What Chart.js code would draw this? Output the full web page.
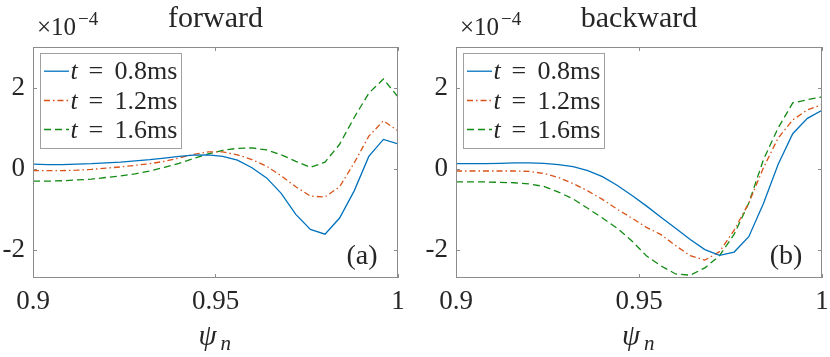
<!DOCTYPE html>
<html>
<head>
<meta charset="utf-8">
<script src="https://cdn.jsdelivr.net/npm/chart.js@4/dist/chart.umd.min.js"></script>
<style>
  html, body { margin: 0; padding: 0; background: #ffffff; }
  #wrap { position: relative; width: 830px; height: 357px; overflow: hidden; }
  canvas { position: absolute; top: 0; }
  .pre { font-family: "Liberation Serif"; position: absolute; left: -1000px; }
</style>
</head>
<body>
<span class="pre">0.9 forward</span><span class="pre"><i>t</i></span>
<div id="wrap">
  <canvas id="cF" width="415" height="357" style="left:0px"></canvas>
  <canvas id="cB" width="415" height="357" style="left:415px"></canvas>
</div>
<script>
// ---------- data (values in units of 1e-4) ----------
const psi = [0.900, 0.904, 0.908, 0.912, 0.916, 0.920, 0.924, 0.928, 0.932, 0.936,
             0.940, 0.944, 0.948, 0.952, 0.956, 0.960, 0.964, 0.968, 0.972, 0.976,
             0.980, 0.984, 0.988, 0.992, 0.996, 1.000];

const seriesLabels = ["0.8ms", "1.2ms", "1.6ms"];

// forward
const fwd08 = [0.11, 0.10, 0.10, 0.11, 0.12, 0.14, 0.16, 0.19, 0.22, 0.26,
               0.30, 0.33, 0.34, 0.30, 0.21, 0.02, -0.23, -0.61, -1.13, -1.50,
               -1.62, -1.22, -0.55, 0.30, 0.72, 0.61];
const fwd12 = [-0.05, -0.05, -0.05, -0.04, -0.02, 0.01, 0.04, 0.08, 0.12, 0.18,
               0.26, 0.35, 0.41, 0.41, 0.34, 0.22, 0.06, -0.18, -0.45, -0.68,
               -0.70, -0.45, 0.14, 0.80, 1.18, 0.93];
const fwd16 = [-0.31, -0.31, -0.30, -0.28, -0.26, -0.22, -0.18, -0.13, -0.06, 0.03,
               0.13, 0.25, 0.36, 0.45, 0.50, 0.51, 0.46, 0.34, 0.18, 0.03,
               0.16, 0.60, 1.26, 1.86, 2.21, 1.77];

// backward
const bwd08 = [0.12, 0.12, 0.12, 0.13, 0.14, 0.14, 0.13, 0.10, 0.05, -0.05,
               -0.20, -0.41, -0.66, -0.92, -1.20, -1.47, -1.75, -2.00, -2.14, -2.06,
               -1.68, -0.86, 0.10, 0.86, 1.24, 1.44];
const bwd12 = [-0.06, -0.06, -0.06, -0.06, -0.06, -0.07, -0.12, -0.22, -0.37, -0.55,
               -0.76, -1.00, -1.22, -1.45, -1.63, -1.90, -2.15, -2.26, -2.05, -1.52,
               -0.85, 0.02, 0.75, 1.20, 1.45, 1.58];
const bwd16 = [-0.33, -0.33, -0.33, -0.34, -0.35, -0.38, -0.44, -0.58, -0.75, -0.98,
               -1.22, -1.47, -1.78, -2.15, -2.40, -2.60, -2.63, -2.45, -2.15, -1.62,
               -0.85, 0.22, 1.00, 1.62, 1.70, 1.77];

const xTicks = [0.9, 0.95, 1];
const yTicks = [-2, 0, 2];

// ---------- styling ----------
const FONT = '"Liberation Serif", "DejaVu Serif", serif';
const TXT = '#262626';
const AXC = '#8c8c8c';
const styles = [
  { color: '#0072BD', dash: [] },
  { color: '#D95319', dash: [6, 3, 1.5, 3] },
  { color: '#138a13', dash: [7, 4] }
];

function makeDatasets(arrs) {
  return arrs.map((arr, k) => ({
    label: seriesLabels[k],
    data: psi.map((x, i) => ({ x: x, y: arr[i] })),
    borderColor: styles[k].color,
    borderDash: styles[k].dash,
    borderWidth: 1.3,
    pointRadius: 0,
    tension: 0,
    fill: false
  }));
}

const decor = {
  id: 'decor',
  afterDraw(chart, args, opts) {
    const ctx = chart.ctx;
    const a = chart.chartArea;
    const xs = chart.scales.x, ys = chart.scales.y;
    ctx.save();
    // box
    ctx.strokeStyle = AXC;
    ctx.lineWidth = 1;
    ctx.strokeRect(Math.round(a.left) + 0.5, Math.round(a.top) + 0.5,
                   Math.round(a.right - a.left) - 1, Math.round(a.bottom - a.top) - 1);
    // inward ticks
    const tl = 4;
    ctx.beginPath();
    xTicks.forEach(v => {
      const px = Math.round(xs.getPixelForValue(v)) + 0.5;
      ctx.moveTo(px, a.bottom); ctx.lineTo(px, a.bottom - tl);
      ctx.moveTo(px, a.top); ctx.lineTo(px, a.top + tl);
    });
    yTicks.forEach(v => {
      const py = Math.round(ys.getPixelForValue(v)) + 0.5;
      ctx.moveTo(a.left, py); ctx.lineTo(a.left + tl, py);
      ctx.moveTo(a.right, py); ctx.lineTo(a.right - tl, py);
    });
    ctx.stroke();

    ctx.fillStyle = TXT;
    // title
    ctx.textAlign = 'center';
    ctx.textBaseline = 'alphabetic';
    ctx.font = '30px ' + FONT;
    ctx.fillText(opts.title, (a.left + a.right) / 2, 27);
    // multiplier x10^-4
    ctx.textAlign = 'left';
    ctx.font = '25px ' + FONT;
    const mx = a.left + 4;
    ctx.fillText('\u00D710', mx, 35);
    const mw = ctx.measureText('\u00D710').width;
    ctx.font = '19px ' + FONT;
    ctx.fillText('\u22124', mx + mw + 2, 25);
    // panel tag
    ctx.textAlign = 'center';
    ctx.textBaseline = 'middle';
    ctx.font = '28px ' + FONT;
    ctx.fillText(opts.tag, a.right - 36, 257);
    // x axis label psi_n
    ctx.textBaseline = 'alphabetic';
    ctx.textAlign = 'left';
    const cx = (a.left + a.right) / 2;
    ctx.font = 'italic 29px ' + FONT;
    ctx.fillText('\u03C8', cx - 17, 345);
    ctx.font = 'italic 21px ' + FONT;
    ctx.fillText('n', cx + 5, 350);

    // legend
    const bx = Math.round(a.left + 6.5) + 0.5, by = Math.round(a.top + 5.5) + 0.5;
    const bw = 141, bh = 95;
    ctx.fillStyle = '#ffffff';
    ctx.fillRect(bx, by, bw, bh);
    ctx.strokeStyle = '#a0a0a0';
    ctx.lineWidth = 1;
    ctx.setLineDash([]);
    ctx.strokeRect(bx, by, bw, bh);
    const lineY = [17.7, 47, 76];
    const baseY = [25.5, 55, 84.5];
    chart.data.datasets.forEach((ds, k) => {
      ctx.strokeStyle = ds.borderColor;
      ctx.lineWidth = 1.3;
      ctx.setLineDash(ds.borderDash || []);
      ctx.beginPath();
      ctx.moveTo(bx + 3.5, by + lineY[k]);
      ctx.lineTo(bx + 28.5, by + lineY[k]);
      ctx.stroke();
      ctx.setLineDash([]);
      ctx.fillStyle = TXT;
      ctx.textAlign = 'left';
      ctx.font = 'italic 26px ' + FONT;
      ctx.fillText('t', bx + 30, by + baseY[k]);
      ctx.font = '26px ' + FONT;
      ctx.fillText('=', bx + 48, by + baseY[k]);
      ctx.fillText(ds.label, bx + 74, by + baseY[k]);
    });
    ctx.restore();
  }
};

function makeChart(id, arrs, title, tag, yWidth, padRight) {
  return new Chart(document.getElementById(id), {
    type: 'line',
    data: { datasets: makeDatasets(arrs) },
    options: {
      responsive: false,
      animation: false,
      events: [],
      layout: { padding: { left: 0, right: padRight, top: 47, bottom: 0 } },
      plugins: {
        legend: { display: false },
        tooltip: { enabled: false },
        decor: { title: title, tag: tag }
      },
      scales: {
        x: {
          type: 'linear', min: 0.9, max: 1.0,
          grid: { display: false, drawTicks: false },
          border: { display: false },
          afterBuildTicks: s => { s.ticks = xTicks.map(v => ({ value: v })); },
          afterFit: s => { s.height = 79; s.paddingLeft = 0; s.paddingRight = 0; },
          ticks: {
            autoSkip: false, maxRotation: 0, padding: 8, color: TXT,
            font: { family: FONT, size: 27 },
            callback: v => String(v)
          }
        },
        y: {
          type: 'linear', min: -2.7, max: 3.0,
          grid: { display: false, drawTicks: false },
          border: { display: false },
          afterBuildTicks: s => { s.ticks = yTicks.map(v => ({ value: v })); },
          afterFit: s => { s.width = yWidth; s.paddingTop = 0; s.paddingBottom = 0; },
          ticks: {
            autoSkip: false, padding: 8, color: TXT,
            font: { family: FONT, size: 27 },
            callback: v => (v < 0 ? '-' + Math.abs(v) : String(v))
          }
        }
      }
    },
    plugins: [decor]
  });
}

function build() {
  makeChart('cF', [fwd08, fwd12, fwd16], 'forward', '(a)', 33, 17);
  makeChart('cB', [bwd08, bwd12, bwd16], 'backward', '(b)', 41, 8);
}

const loads = [
  '27px "Liberation Serif"', 'italic 27px "Liberation Serif"'
].map(f => (document.fonts && document.fonts.load) ? document.fonts.load(f) : Promise.resolve());
Promise.all(loads).then(build, build);
</script>
</body>
</html>
